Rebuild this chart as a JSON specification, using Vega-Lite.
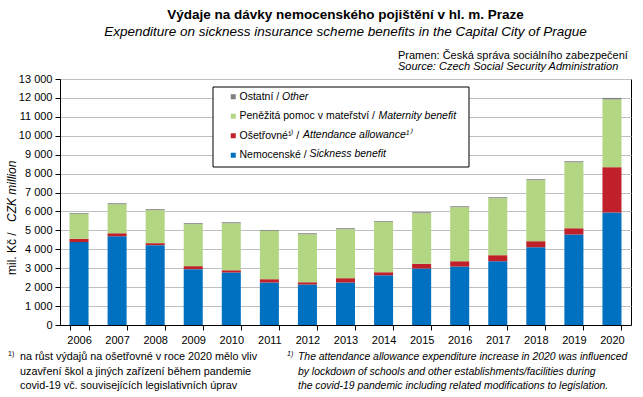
{
  "$schema": "https://vega.github.io/schema/vega-lite/v6.json",
  "width": 571,
  "height": 246,
  "autosize": "none",
  "padding": {"left": 60, "top": 79, "right": 12, "bottom": 72},
  "background": "white",
  "config": {
    "font": "Liberation Sans",
    "view": {"stroke": "black", "strokeWidth": 1},
    "title": {"font": "Liberation Sans", "subtitleFont": "Liberation Sans"}
  },
  "title": {
    "text": "Výdaje na dávky nemocenského pojištění v hl. m. Praze",
    "subtitle": "Expenditure  on sickness insurance scheme benefits in the Capital City of Prague",
    "anchor": "middle",
    "frame": "group",
    "fontSize": 13.5,
    "fontWeight": "bold",
    "color": "black",
    "subtitleFontSize": 13.5,
    "subtitleFontStyle": "italic",
    "subtitleColor": "black",
    "subtitlePadding": 3,
    "offset": 12
  },
  "layer": [
    {
      "data": {"values": [
        {"year": "2006", "Nemocenské": 4380, "Ošetřovné": 175, "Peněžitá pomoc v mateřství": 1320, "Ostatní": 40},
        {"year": "2007", "Nemocenské": 4690, "Ošetřovné": 160, "Peněžitá pomoc v mateřství": 1535, "Ostatní": 50},
        {"year": "2008", "Nemocenské": 4220, "Ošetřovné": 105, "Peněžitá pomoc v mateřství": 1745, "Ostatní": 50},
        {"year": "2009", "Nemocenské": 2950, "Ošetřovné": 160, "Peněžitá pomoc v mateřství": 2220, "Ostatní": 50},
        {"year": "2010", "Nemocenské": 2775, "Ošetřovné": 120, "Peněžitá pomoc v mateřství": 2485, "Ostatní": 50},
        {"year": "2011", "Nemocenské": 2245, "Ošetřovné": 175, "Peněžitá pomoc v mateřství": 2560, "Ostatní": 40},
        {"year": "2012", "Nemocenské": 2140, "Ošetřovné": 120, "Peněžitá pomoc v mateřství": 2540, "Ostatní": 50},
        {"year": "2013", "Nemocenské": 2245, "Ošetřovné": 230, "Peněžitá pomoc v mateřství": 2590, "Ostatní": 50},
        {"year": "2014", "Nemocenské": 2630, "Ošetřovné": 160, "Peněžitá pomoc v mateřství": 2665, "Ostatní": 40},
        {"year": "2015", "Nemocenské": 2985, "Ošetřovné": 250, "Peněžitá pomoc v mateřství": 2675, "Ostatní": 50},
        {"year": "2016", "Nemocenské": 3090, "Ošetřovné": 280, "Peněžitá pomoc v mateřství": 2855, "Ostatní": 50},
        {"year": "2017", "Nemocenské": 3370, "Ošetřovné": 320, "Peněžitá pomoc v mateřství": 3010, "Ostatní": 50},
        {"year": "2018", "Nemocenské": 4110, "Ošetřovné": 320, "Peněžitá pomoc v mateřství": 3225, "Ostatní": 50},
        {"year": "2019", "Nemocenské": 4785, "Ošetřovné": 330, "Peněžitá pomoc v mateřství": 3490, "Ostatní": 50},
        {"year": "2020", "Nemocenské": 5945, "Ošetřovné": 2395, "Peněžitá pomoc v mateřství": 3580, "Ostatní": 80}
      ]},
      "transform": [
        {"fold": ["Nemocenské", "Ošetřovné", "Peněžitá pomoc v mateřství", "Ostatní"], "as": ["cat", "value"]},
        {"calculate": "indexof(['Nemocenské','Ošetřovné','Peněžitá pomoc v mateřství','Ostatní'], datum.cat)", "as": "ord"}
      ],
      "mark": {"type": "bar"},
      "encoding": {
        "x": {
          "field": "year", "type": "nominal",
          "scale": {"paddingInner": 0.5, "paddingOuter": 0.25},
          "axis": {
            "title": null, "labelAngle": 0, "labelFontSize": 11, "labelColor": "black",
            "labelPadding": 4, "domainColor": "black", "tickColor": "black", "tickSize": 5,
            "tickBand": "extent", "grid": false
          }
        },
        "y": {
          "field": "value", "type": "quantitative", "aggregate": "sum", "stack": "zero",
          "scale": {"domain": [0, 13000], "nice": false},
          "axis": {
            "title": null,
            "values": [0, 1000, 2000, 3000, 4000, 5000, 6000, 7000, 8000, 9000, 10000, 11000, 12000, 13000],
            "labelExpr": "replace(format(datum.value, ','), ',', ' ')",
            "labelFontSize": 11, "labelColor": "black", "labelPadding": 3,
            "domainColor": "black", "tickColor": "black", "tickSize": 5,
            "gridColor": "#BFBFBF", "gridWidth": 1
          }
        },
        "color": {
          "field": "cat", "type": "nominal",
          "scale": {
            "domain": ["Ostatní", "Peněžitá pomoc v mateřství", "Ošetřovné", "Nemocenské"],
            "range": ["#808080", "#B3D683", "#C0202A", "#0070C0"]
          },
          "legend": {
            "title": null,
            "orient": "none",
            "legendX": 168,
            "legendY": 12.5,
            "padding": 0,
            "symbolType": "square",
            "symbolSize": 25,
            "symbolStrokeWidth": 0,
            "labelFontSize": 10.5,
            "labelColor": "black",
            "labelOffset": 1,
            "rowPadding": 8.5,
            "labelLimit": 300,
            "labelExpr": "datum.label == 'Ošetřovné' ? 'Ošetřovné¹⁾ /' : datum.label + ' /'"
          }
        },
        "order": {"field": "ord", "type": "quantitative"}
      }
    },
    {
      "data": {"values": [{}]},
      "mark": {"type": "rect", "x": 153, "x2": 409, "y": 8, "y2": 88, "fill": "white", "stroke": "black", "strokeWidth": 1},
      "encoding": {}
    },
    {
      "data": {"values": [{}]},
      "mark": {"type": "text", "text": "Other", "align": "left", "baseline": "middle", "x": 222, "y": 17.7, "fontSize": 10.5, "fontStyle": "italic", "color": "black"},
      "encoding": {}
    },
    {
      "data": {"values": [{}]},
      "mark": {"type": "text", "text": "Maternity benefit", "align": "left", "baseline": "middle", "x": 318.5, "y": 36.7, "fontSize": 10.5, "fontStyle": "italic", "color": "black"},
      "encoding": {}
    },
    {
      "data": {"values": [{}]},
      "mark": {"type": "text", "text": "Attendance allowance¹⁾", "align": "left", "baseline": "middle", "x": 243, "y": 55.7, "fontSize": 10.5, "fontStyle": "italic", "color": "black"},
      "encoding": {}
    },
    {
      "data": {"values": [{}]},
      "mark": {"type": "text", "text": "Sickness benefit", "align": "left", "baseline": "middle", "x": 249.5, "y": 74.7, "fontSize": 10.5, "fontStyle": "italic", "color": "black"},
      "encoding": {}
    },
    {
      "data": {"values": [{}]},
      "mark": {"type": "text", "text": "mil. Kč /", "angle": 270, "align": "left", "baseline": "middle", "x": -48, "y": 196, "fontSize": 12, "color": "black"},
      "encoding": {}
    },
    {
      "data": {"values": [{}]},
      "mark": {"type": "text", "text": "CZK million", "angle": 270, "align": "left", "baseline": "middle", "x": -48, "y": 143, "fontSize": 12, "fontStyle": "italic", "color": "black"},
      "encoding": {}
    },
    {
      "data": {"values": [{}]},
      "mark": {"type": "text", "text": "Pramen: Česká správa sociálního zabezpečení", "align": "left", "baseline": "middle", "x": 338, "y": -23, "fontSize": 11, "color": "black"},
      "encoding": {}
    },
    {
      "data": {"values": [{}]},
      "mark": {"type": "text", "text": "Source: Czech Social Security Administration", "align": "left", "baseline": "middle", "x": 338, "y": -12, "fontSize": 11, "fontStyle": "italic", "color": "black"},
      "encoding": {}
    },
    {
      "data": {"values": [{}]},
      "mark": {"type": "text", "text": "1)", "align": "left", "baseline": "alphabetic", "x": -52, "y": 277, "fontSize": 7, "color": "black"},
      "encoding": {}
    },
    {
      "data": {"values": [{}]},
      "mark": {"type": "text", "text": "na růst výdajů na ošetřovné v roce 2020 mělo vliv\nuzavření škol a jiných zařízení během pandemie\ncovid-19 vč. souvisejících legislativních úprav", "lineBreak": "\n", "lineHeight": 14.5, "align": "left", "baseline": "alphabetic", "x": -40, "y": 281, "fontSize": 10.8, "color": "black"},
      "encoding": {}
    },
    {
      "data": {"values": [{}]},
      "mark": {"type": "text", "text": "1)", "align": "left", "baseline": "alphabetic", "x": 227, "y": 277, "fontSize": 7, "fontStyle": "italic", "color": "black"},
      "encoding": {}
    },
    {
      "data": {"values": [{}]},
      "mark": {"type": "text", "text": "The attendance allowance expenditure increase in 2020 was influenced\nby lockdown of schools and other establishments/facilities during\nthe covid-19 pandemic including related modifications to legislation.", "lineBreak": "\n", "lineHeight": 14.5, "align": "left", "baseline": "alphabetic", "x": 238, "y": 281, "fontSize": 10.4, "fontStyle": "italic", "color": "black"},
      "encoding": {}
    }
  ]
}
